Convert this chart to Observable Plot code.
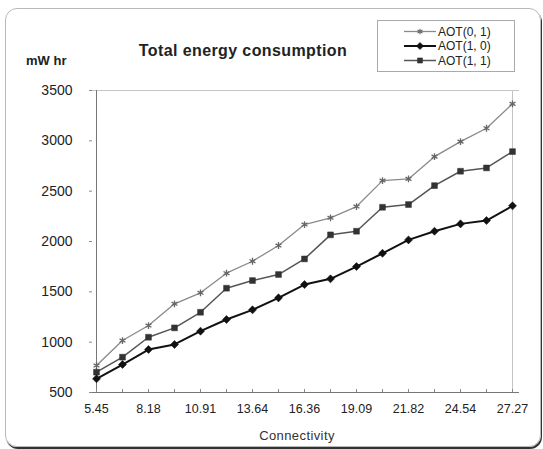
<!DOCTYPE html>
<html>
<head>
<meta charset="utf-8">
<script src="https://cdn.jsdelivr.net/npm/d3@7"></script>
<script src="https://cdn.jsdelivr.net/npm/@observablehq/plot@0.6"></script>
<style>
  body { margin: 0; background: #fff; font-family: "Liberation Sans", Arial, sans-serif; }
  #wrap { position: relative; width: 543px; height: 449px; overflow: hidden; }
  #border { position: absolute; left: 5px; top: 8px; width: 536px; height: 439px;
            border: 1px solid #b8b8b8; border-radius: 12px; box-shadow: 1px 2px 0 #333; box-sizing: border-box; }
  #title { position: absolute; left: 0; width: 486px; top: 42px; text-align: center;
           font-size: 16px; font-weight: bold; color: #222; letter-spacing: 0.4px; }
  #unit { position: absolute; left: 26px; top: 53px; font-size: 13px; font-weight: bold; color: #222; }
  #xlab { position: absolute; left: 0; width: 594px; top: 428px; text-align: center; font-size: 13px; color: #333; letter-spacing: 0.4px; }
  #legend { position: absolute; left: 377px; top: 20px; width: 138px; height: 52px; border: 1px solid #aaa; box-sizing: border-box; }
  #chart { position: absolute; left: 0; top: 0; }
</style>
</head>
<body>
<div id="wrap">
  <div id="border"></div>
  <div id="chart"></div>
  <div id="title"></div>
  <div id="unit"></div>
  <div id="xlab"></div>
  <div id="legend"></div>
</div>
<script>
const connectivity = ["5.45","6.82","8.18","9.55","10.91","12.27","13.64","15.00","16.36","17.73","19.09","20.45","21.82","23.18","24.54","25.91","27.27"];
const tickLabels = ["5.45","8.18","10.91","13.64","16.36","19.09","21.82","24.54","27.27"];
const yTicks = [500,1000,1500,2000,2500,3000,3500];
const seriesNames = ["AOT(0, 1)","AOT(1, 0)","AOT(1, 1)"];
const aot01 = [768,1016,1165,1381,1490,1685,1804,1960,2168,2235,2347,2605,2622,2843,2992,3125,3367];
const aot10 = [636,778,927,977,1109,1225,1321,1440,1572,1629,1751,1883,2016,2102,2175,2208,2354];
const aot11 = [702,851,1049,1142,1297,1536,1612,1672,1827,2066,2102,2340,2367,2555,2698,2731,2893];
const titleText = "Total energy consumption";
const unitText = "mW hr";
const xLabelText = "Connectivity";

const styles = {
  "AOT(0, 1)": {stroke: "#8a8a8a", width: 1.3, symbol: "asterisk", rotate: 0, fill: "none", mstroke: "#666", r: 3.2},
  "AOT(1, 0)": {stroke: "#111", width: 2, symbol: "square", rotate: 45, fill: "#111", mstroke: "#111", r: 3.2},
  "AOT(1, 1)": {stroke: "#555", width: 1.5, symbol: "square", rotate: 0, fill: "#333", mstroke: "#333", r: 3.3}
};
const values = {"AOT(0, 1)": aot01, "AOT(1, 0)": aot10, "AOT(1, 1)": aot11};

const rows = [];
for (const s of seriesNames) values[s].forEach((v, i) => rows.push({x: connectivity[i], y: v, s}));

const marks = [
  Plot.ruleY([3500], {stroke: "#c4c4c4"}),
  Plot.ruleX([connectivity[connectivity.length - 1]], {stroke: "#c4c4c4"}),
  Plot.ruleY([500], {stroke: "#777"}),
  Plot.ruleX([connectivity[0]], {stroke: "#777"}),
  Plot.axisX(connectivity, {tickSize: -3, stroke: "#888", text: null, label: null}),
  Plot.axisX(tickLabels, {tickSize: 0, tickPadding: 12, fontSize: 12.5, fill: "#222", label: null}),
  Plot.axisY(yTicks, {tickSize: -3, stroke: "#888", text: null, label: null}),
  Plot.axisY(yTicks, {tickSize: 0, tickPadding: 17, fontSize: 14, fill: "#222", label: null, tickFormat: d => String(d)})
];
for (const s of ["AOT(0, 1)", "AOT(1, 1)", "AOT(1, 0)"]) {
  const st = styles[s];
  const d = rows.filter(r => r.s === s);
  marks.push(Plot.line(d, {x: "x", y: "y", stroke: st.stroke, strokeWidth: st.width}));
  marks.push(Plot.dot(d, {x: "x", y: "y", symbol: () => st.symbol, rotate: st.rotate, r: st.r, fill: st.fill, stroke: st.mstroke, strokeWidth: st.symbol === "asterisk" ? 1.3 : 0.5}));
}

const chart = Plot.plot({
  width: 543, height: 449,
  marginLeft: 89, marginRight: 24, marginTop: 90, marginBottom: 57,
  style: {background: "transparent", fontFamily: "'Liberation Sans', Arial, sans-serif"},
  x: {type: "point", domain: connectivity, padding: 0, axis: null},
  y: {domain: [500, 3500], axis: null},
  symbol: {type: "identity"},
  marks
});
document.getElementById("chart").appendChild(chart);
document.getElementById("title").textContent = titleText;
document.getElementById("unit").textContent = unitText;
document.getElementById("xlab").textContent = xLabelText;

// legend
const leg = d3.select("#legend").append("svg").attr("width", 136).attr("height", 50);
seriesNames.forEach((s, i) => {
  const st = styles[s];
  const cy = 10.5 + i * 14.5;
  leg.append("line").attr("x1", 26).attr("x2", 58).attr("y1", cy).attr("y2", cy).attr("stroke", st.stroke).attr("stroke-width", st.width);
  const sym = s === "AOT(0, 1)" ? d3.symbolAsterisk : d3.symbolSquare;
  leg.append("path").attr("transform", `translate(42,${cy}) rotate(${st.rotate})`).attr("d", d3.symbol(sym, s === "AOT(0, 1)" ? 22 : 26)())
     .attr("fill", st.fill).attr("stroke", st.mstroke).attr("stroke-width", s === "AOT(0, 1)" ? 1.1 : 0.5);
  leg.append("text").attr("x", 60).attr("y", cy).attr("dy", "0.36em").attr("font-size", 12).attr("fill", "#222")
     .attr("font-family", "'Liberation Sans', Arial, sans-serif").text(s);
});
</script>
</body>
</html>
